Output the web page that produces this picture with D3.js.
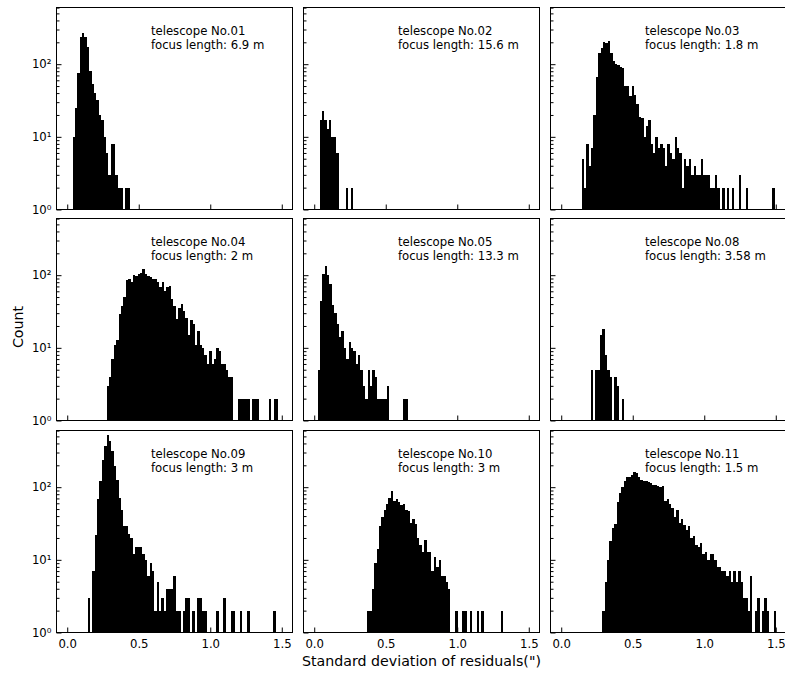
<!DOCTYPE html>
<html>
<head>
<meta charset="utf-8">
<script src="https://cdn.jsdelivr.net/npm/d3@7"></script>
<style>
  body { margin: 0; background: #fff; }
  svg { display: block; font-family: "DejaVu Sans", sans-serif; }
</style>
</head>
<body>
<svg id="chart" width="785" height="673"></svg>
<script>
// Histograms of residual standard deviation, one panel per telescope.
const telescopeIds = ["No.01", "No.02", "No.03", "No.04", "No.05", "No.08", "No.09", "No.10", "No.11"];
const focusLengths = ["6.9", "15.6", "1.8", "2", "13.3", "3.58", "3", "3", "1.5"];

// Histogram bins: common width, left edge of the first bin per telescope.
const binWidth = 1 / 60;
const firstBinEdges = [0.037, 0.037, 0.142, 0.276, 0.023, 0.205, 0.142, 0.369, 0.287];

const counts01 = [10, 25, 75, 240, 265, 240, 175, 80, 53, 40, 32, 20, 17, 10, 6, 3, 8, 8, 3, 2, 2, 0, 2, 2];
const counts02 = [17, 23, 17, 13, 17, 10, 10, 6, 0, 0, 0, 2, 0, 2];
const counts03 = [5, 2, 8, 4, 7, 20, 66, 141, 167, 205, 195, 210, 141, 112, 100, 96, 92, 90, 50, 50,
  37, 50, 38, 28, 19, 18, 10, 14, 17, 8, 6, 10, 7, 8, 7, 4, 8, 6, 5, 10, 7, 6, 2, 5, 4, 5, 3, 4, 3, 3,
  5, 3, 3, 3, 2, 2, 3, 2, 1, 2, 1, 2, 1, 2, 1, 0, 3, 1, 0, 2, 0, 1, 0, 0, 1, 0, 0, 1, 0, 0, 2];
const counts04 = [3, 4, 7, 11, 13, 29, 38, 50, 87, 90, 80, 100, 98, 103, 108, 123, 105, 98, 93, 90,
  88, 80, 68, 80, 61, 68, 70, 47, 38, 25, 35, 40, 32, 26, 15, 24, 21, 11, 17, 11, 10, 8, 6, 9, 6,
  7, 10, 9, 6, 6, 5, 4, 4, 1, 0, 2, 2, 2, 2, 2, 1, 2, 2, 2, 0, 1, 0, 1, 2, 1, 2, 2];
const counts05 = [5, 44, 103, 134, 101, 75, 39, 30, 21, 14, 17, 10, 7, 12, 10, 9, 6, 8, 5, 3, 2, 5,
  3, 5, 4, 2, 2, 2, 2, 3, 1, 0, 1, 0, 0, 1, 2, 2];
const counts08 = [5, 0, 5, 5, 15, 18, 8, 5, 4, 0, 4, 3, 0, 2];
const counts09 = [3, 0, 7, 22, 68, 121, 235, 366, 515, 427, 312, 195, 127, 71, 49, 29, 29, 23, 20, 12,
  15, 15, 15, 12, 10, 6, 9, 7, 2, 5, 2, 3, 2, 4, 4, 4, 6, 2, 2, 0, 2, 3, 3, 0, 2, 0, 3, 3, 2, 2,
  0, 0, 0, 0, 2, 0, 0, 3, 0, 0, 2, 2, 0, 0, 2, 0, 0, 2, 0, 0, 0, 0, 0, 0, 0, 0, 0, 0, 2];
const counts10 = [2, 2, 4, 9, 14, 29, 39, 48, 58, 71, 90, 64, 68, 62, 56, 58, 49, 47, 32, 36, 31, 20,
  16, 13, 19, 13, 13, 7, 11, 8, 10, 6, 6, 5, 4, 1, 0, 2, 0, 0, 2, 2, 0, 2, 0, 0, 2, 0, 2, 0, 0, 0,
  0, 0, 0, 0, 2];
const counts11 = [2, 5, 10, 18, 27, 31, 62, 83, 100, 120, 137, 140, 148, 162, 155, 140, 127, 123, 120,
  117, 113, 108, 106, 103, 100, 104, 64, 68, 58, 52, 39, 49, 32, 36, 30, 26, 29, 20, 21, 16, 15, 17,
  12, 13, 10, 12, 12, 10, 8, 8, 7, 7, 6, 7, 5, 7, 5, 7, 5, 3, 3, 2, 6, 0, 2, 3, 0, 2, 3, 2, 0, 0, 2];

const panelCounts = [counts01, counts02, counts03, counts04, counts05, counts08, counts09, counts10, counts11];

// Axis settings
const xDomain = [-0.075, 1.575];
const yDomain = [1, Math.pow(10, 2.78)];
const xTickValues = [0, 0.5, 1.0, 1.5];
const yMajorTicks = [1, 10, 100];
const yMinorTicks = [2, 3, 4, 5, 6, 7, 8, 9, 20, 30, 40, 50, 60, 70, 80, 90, 200, 300, 400, 500, 600];
const xLabel = 'Standard deviation of residuals(")';
const yLabel = "Count";

// Layout
const colX = [56.5, 303.5, 550.5];
const rowY = [7.5, 218.5, 430.5];
const pw = 236, ph = 202;
const fontSize = 11.7;
const labelSize = 14.2;

const svg = d3.select("#chart");
const x = d3.scaleLinear().domain(xDomain).range([0, pw]);
const y = d3.scaleLog().domain(yDomain).range([ph, 0]);

const supDigits = { "0": "\u2070", "1": "\u00b9", "2": "\u00b2" };

panelCounts.forEach((counts, i) => {
  const row = Math.floor(i / 3), col = i % 3;
  const g = svg.append("g").attr("transform", `translate(${colX[col]},${rowY[row]})`);
  const lo = firstBinEdges[i];

  const bins = counts.map((c, k) => ({ x0: lo + k * binWidth, x1: lo + (k + 1) * binWidth, count: c }))
    .filter(d => d.count > 0);

  g.append("g")
    .attr("shape-rendering", "crispEdges")
    .selectAll("rect")
    .data(bins)
    .join("rect")
    .attr("x", d => x(d.x0))
    .attr("width", d => x(d.x1) - x(d.x0))
    .attr("y", d => y(d.count))
    .attr("height", d => ph - y(d.count))
    .attr("fill", "#000");

  // x axis (ticks pointing inward)
  const xa = g.append("g")
    .attr("transform", `translate(0,${ph})`)
    .call(d3.axisBottom(x).tickValues(xTickValues).tickSize(-5).tickPadding(7)
      .tickFormat(row === 2 ? d3.format(".1f") : () => ""));
  xa.select(".domain").remove();

  // y axis minor ticks
  const ym = g.append("g")
    .call(d3.axisLeft(y).tickValues(yMinorTicks).tickSize(-3).tickFormat(() => ""));
  ym.select(".domain").remove();

  // y axis major ticks
  const ya = g.append("g")
    .call(d3.axisLeft(y).tickValues(yMajorTicks).tickSize(-5).tickPadding(5).tickFormat(() => ""));
  ya.select(".domain").remove();
  if (col === 0) {
    ya.selectAll(".tick text").each(function (d) {
      const e = String(Math.round(Math.log10(d)));
      d3.select(this).text("10" + supDigits[e]);
    });
  }

  [xa, ym, ya].forEach(a => a.attr("font-family", null).attr("font-size", fontSize));

  // panel frame
  g.append("rect")
    .attr("width", pw).attr("height", ph)
    .attr("fill", "none").attr("stroke", "#000").attr("stroke-width", 1);

  // annotation
  const ann = g.append("text")
    .attr("font-size", fontSize)
    .attr("fill", "#000");
  ann.append("tspan").attr("x", pw * 0.4).attr("y", 27).text(`telescope ${telescopeIds[i]}`);
  ann.append("tspan").attr("x", pw * 0.4).attr("y", 41).text(`focus length: ${focusLengths[i]} m`);
});

svg.append("text")
  .attr("x", (colX[0] + colX[2] + pw) / 2)
  .attr("y", 666)
  .attr("text-anchor", "middle")
  .attr("font-size", labelSize)
  .text(xLabel);

svg.append("text")
  .attr("transform", `translate(23,327) rotate(-90)`)
  .attr("text-anchor", "middle")
  .attr("font-size", labelSize)
  .text(yLabel);
</script>
</body>
</html>
